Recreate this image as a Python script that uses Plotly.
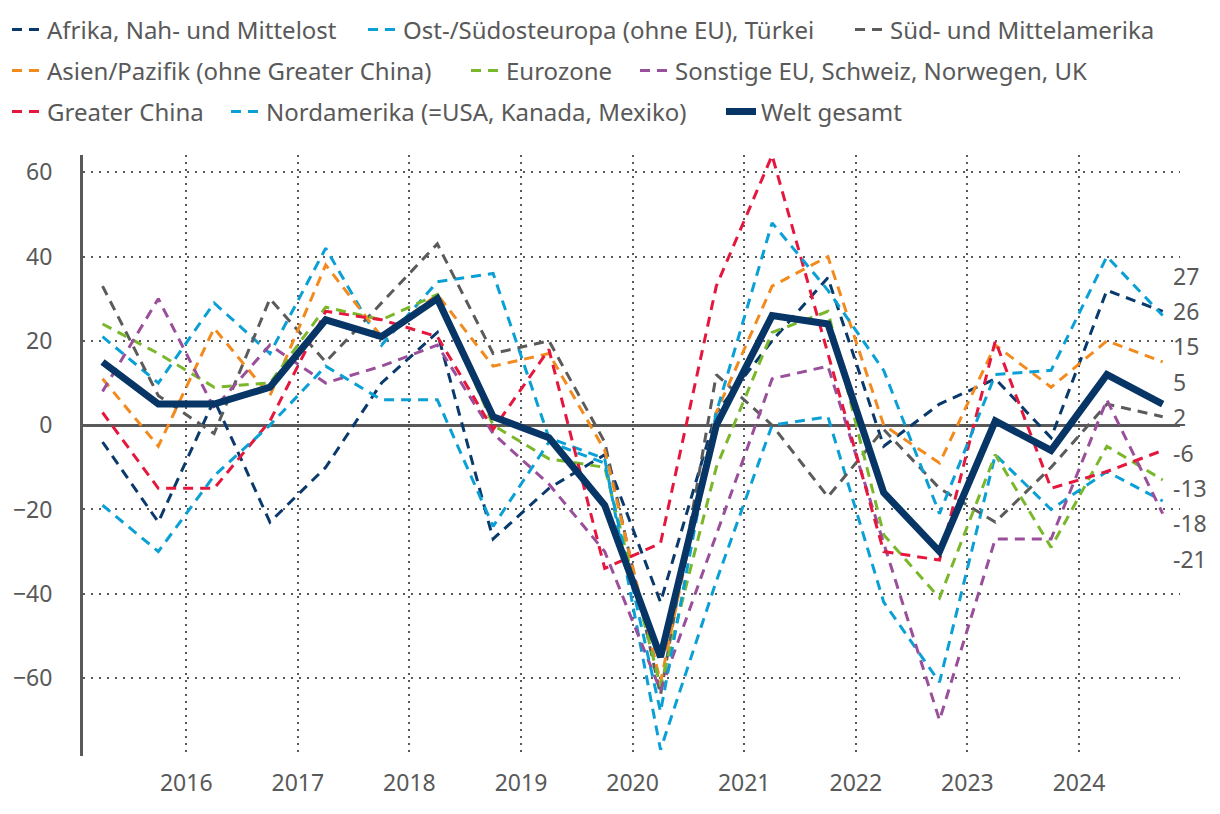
import plotly.graph_objects as go

# half-year periods (mid-points), year tick labels
periods = [2015.75, 2016.25, 2016.75, 2017.25, 2017.75, 2018.25, 2018.75, 2019.25,
           2019.75, 2020.25, 2020.75, 2021.25, 2021.75, 2022.25, 2022.75, 2023.25,
           2023.75, 2024.25, 2024.75, 2025.25]
year_ticks = [2016.5, 2017.5, 2018.5, 2019.5, 2020.5, 2021.5, 2022.5, 2023.5, 2024.5]
year_labels = ["2016", "2017", "2018", "2019", "2020", "2021", "2022", "2023", "2024"]
y_ticks = [-60, -40, -20, 0, 20, 40, 60]
y_labels = ["\u221260", "\u221240", "\u221220", "0", "20", "40", "60"]

afrika = [-4, -23, 6, -23, -10, 10, 22, -27, -15, -7, -42, 3, 20, 35, -5, 5, 11, -3, 32, 27]
ost = [21, 10, 29, 17, 42, 19, 34, 36, -3, -8, -77, -37, 0, 2, -42, -61, -7, -20, -11, -18]
sued = [33, 7, -2, 30, 15, 29, 43, 17, 20, -4, -64, 12, 0, -17, -1, -15, -23, -10, 5, 2]
asien = [11, -5, 23, 7, 38, 21, 31, 14, 17, -6, -61, 3, 33, 40, 0, -9, 19, 9, 20, 15]
eurozone = [24, 17, 9, 10, 28, 25, 31, 0, -8, -10, -62, -10, 22, 27, -26, -41, -7, -29, -5, -13]
sonstige = [8, 30, 4, 19, 10, 14, 19, -2, -14, -30, -63, -26, 11, 14, -28, -70, -27, -27, 6, -21]
china = [3, -15, -15, 1, 27, 25, 21, -1, 18, -34, -28, 33, 64, 17, -30, -32, 20, -15, -11, -6]
nord = [-19, -30, -12, 0, 14, 6, 6, -24, -4, -9, -68, 3, 48, 32, 13, -21, 12, 13, 40, 26]
welt = [15, 5, 5, 9, 25, 21, 30, 2, -3, -19, -55, 0, 26, 24, -16, -30, 1, -6, 12, 5]

series = [
    ("Afrika, Nah- und Mittelost", afrika, "#0a3a6b", False),
    ("Ost-/Südosteuropa (ohne EU), Türkei", ost, "#0aa0d6", False),
    ("Süd- und Mittelamerika", sued, "#5b5b5b", False),
    ("Asien/Pazifik (ohne Greater China)", asien, "#f28a1e", False),
    ("Eurozone", eurozone, "#7ab72a", False),
    ("Sonstige EU, Schweiz, Norwegen, UK", sonstige, "#9a4f9b", False),
    ("Greater China", china, "#e5173d", False),
    ("Nordamerika (=USA, Kanada, Mexiko)", nord, "#0aa0d6", False),
    ("Welt gesamt", welt, "#063566", True),
]

# legend item text positions (px) in the reference layout
legend_pos = [(48, 30), (404, 30), (891, 30),
              (48, 71), (507, 71), (676, 71),
              (48, 112), (267, 112), (762, 112)]

FONT = "Noto Sans"
GRAY = "#595959"
W, H = 1220, 814
ML, MR, MT, MB = 83, 40, 155, 58
PW, PH = W - ML - MR, H - MT - MB

fig = go.Figure()
layout_legends = {}
for k, (name, vals, color, solid) in enumerate(series):
    lname = "legend" if k == 0 else f"legend{k+1}"
    fig.add_trace(go.Scatter(
        x=periods, y=vals, name=name, mode="lines",
        line=dict(color=color, width=7 if solid else 3,
                  dash="solid" if solid else "10px,7px"),
        legend=lname,
    ))
    tx, ty = legend_pos[k]
    layout_legends[lname] = dict(
        x=(tx - 41 - ML) / PW, xanchor="left",
        y=(H - MB - ty) / PH, yanchor="middle",
        orientation="h", bgcolor="rgba(0,0,0,0)",
        font=dict(family=FONT, size=24, color=GRAY),
    )


def spread(vals, gap):
    order = sorted(range(len(vals)), key=lambda i: -vals[i])
    clusters = [[i] for i in order]
    changed = True
    while changed:
        changed = False
        new = []
        for c in clusters:
            if new:
                p = new[-1]
                pc = sum(vals[i] for i in p) / len(p)
                cc = sum(vals[i] for i in c) / len(c)
                if (pc - gap * (len(p) - 1) / 2) - (cc + gap * (len(c) - 1) / 2) < gap:
                    new[-1] = p + c
                    changed = True
                    continue
            new.append(c)
        clusters = new
    res = {}
    for c in clusters:
        cc = sum(vals[i] for i in c) / len(c)
        for j, i in enumerate(c):
            res[i] = cc + gap * ((len(c) - 1) / 2 - j)
    return res


last_vals = [s[1][-1] for s in series]
label_y = spread(last_vals, 8.4)
for i, v in enumerate(last_vals):
    fig.add_annotation(x=1, xref="paper", xanchor="left", xshift=-9,
                       y=label_y[i], yref="y", yanchor="middle",
                       text=str(v), showarrow=False,
                       font=dict(family=FONT, size=23, color=GRAY))

fig.update_layout(
    width=W, height=H,
    margin=dict(l=ML, r=MR, t=MT, b=MB, autoexpand=False),
    paper_bgcolor="white", plot_bgcolor="white",
    font=dict(family=FONT, size=23, color=GRAY),
    showlegend=True,
    **layout_legends,
)
fig.update_xaxes(
    range=[2015.575, 2025.405], automargin=False,
    tickvals=year_ticks, ticktext=year_labels,
    showgrid=True, gridcolor=GRAY, gridwidth=2, griddash="2px,5px",
    zeroline=False, showline=False,
    ticks="outside", ticklen=0, ticklabelstandoff=6,
    tickfont=dict(family=FONT, size=23, color=GRAY),
)
fig.update_yaxes(
    range=[-78.5, 64.1], automargin=False,
    tickvals=y_ticks, ticktext=y_labels,
    showgrid=True, gridcolor=GRAY, gridwidth=2, griddash="2px,6px",
    zeroline=True, zerolinecolor=GRAY, zerolinewidth=3,
    showline=True, linecolor=GRAY, linewidth=3,
    ticks="outside", ticklen=0, ticklabelstandoff=23,
    tickfont=dict(family=FONT, size=23, color=GRAY),
)

fig.write_html("out.html")
